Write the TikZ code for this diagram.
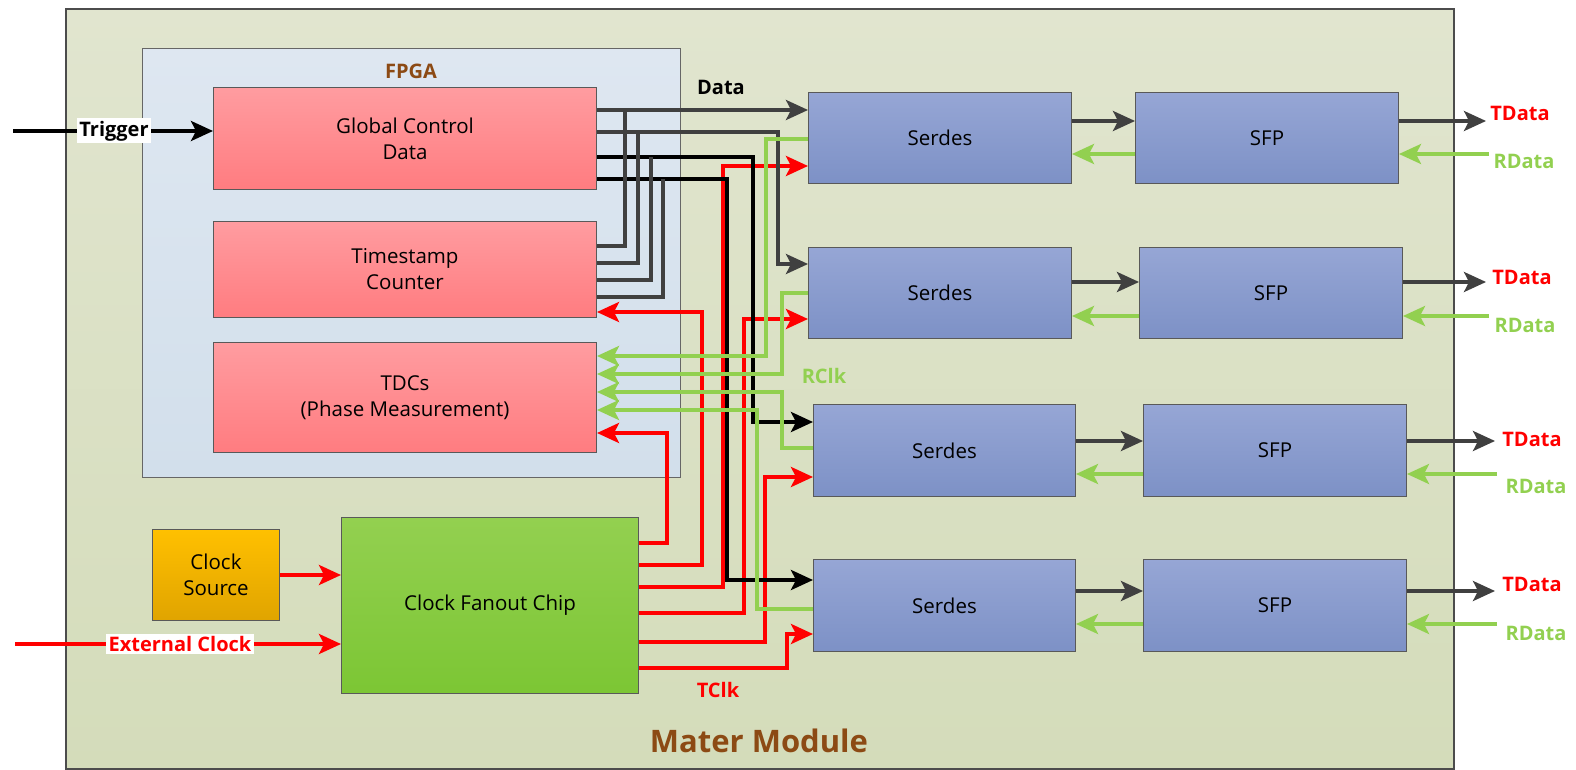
\documentclass[tikz,border=0pt]{standalone}
\usepackage{fontspec}
\setmainfont{Open Sans}
\usetikzlibrary{arrows.meta}
\definecolor{dkgray}{HTML}{404040}
\definecolor{grn}{HTML}{92D050}
\definecolor{brn}{HTML}{8C4A14}
\definecolor{rdc}{HTML}{FF0000}
\definecolor{olvT}{HTML}{E1E5CF}
\definecolor{olvB}{HTML}{D4DCBA}
\definecolor{fpgT}{HTML}{DEE7F1}
\definecolor{fpgB}{HTML}{D2DFEB}
\definecolor{pnkT}{HTML}{FF9CA0}
\definecolor{pnkB}{HTML}{FF7C80}
\definecolor{bluT}{HTML}{96A6D5}
\definecolor{bluB}{HTML}{7D91C6}
\definecolor{orgT}{HTML}{FFC000}
\definecolor{orgB}{HTML}{E0A400}
\definecolor{fanT}{HTML}{93D050}
\definecolor{fanB}{HTML}{7CC634}
\begin{document}
\begin{tikzpicture}[x=1pt,y=-1pt,
  box/.style={draw=black!65,line width=1pt,anchor=north west,inner sep=0pt,align=center,font=\fontsize{20.5}{26}\selectfont},
  pinkbox/.style={box,top color=pnkT,bottom color=pnkB},
  bluebox/.style={box,top color=bluT,bottom color=bluB},
  lbl/.style={font=\fontsize{20}{23}\selectfont\bfseries,inner sep=1.5pt},
  wdk/.style={draw=dkgray,line width=3.5pt},
  wbk/.style={draw=black,line width=4pt},
  wrd/.style={draw=rdc,line width=4pt},
  wgn/.style={draw=grn,line width=3.5pt},
  arr/.style={-{Stealth[length=22pt,width=20pt,inset=5pt]}}]
\useasboundingbox (0,0) rectangle (1576,770);
% frames
\node[box,top color=olvT,bottom color=olvB,draw=black!70,line width=2pt,minimum width=1388pt,minimum height=760pt] (mm) at (65,8) {};
\node[box,top color=fpgT,bottom color=fpgB,draw=black!60,minimum width=538pt,minimum height=429pt] (fpga) at (142,48) {};
\node[lbl,text=brn] (fpgalbl) at (411,71) {FPGA};
\node[lbl,text=brn,font=\fontsize{31}{36}\selectfont\bfseries] (mmlbl) at (759,741) {Mater Module};
% FPGA blocks
\node[pinkbox,minimum width=383pt,minimum height=102pt] (gcd) at (213,87) {Global Control\\Data};
\node[pinkbox,minimum width=383pt,minimum height=96pt] (ts) at (213,221) {Timestamp\\Counter};
\node[pinkbox,minimum width=383pt,minimum height=110pt] (tdc) at (213,342) {TDCs\\(Phase Measurement)};
% clock blocks
\node[box,top color=orgT,bottom color=orgB,minimum width=127pt,minimum height=91pt] (cks) at (152,529) {Clock\\Source};
\node[box,top color=fanT,bottom color=fanB,minimum width=297pt,minimum height=176pt] (fan) at (341,517) {Clock Fanout Chip};
% serdes and sfp
\node[bluebox,minimum width=263pt,minimum height=91pt] (ser1) at (808,92) {Serdes};
\node[bluebox,minimum width=263pt,minimum height=91pt] (ser2) at (808,247) {Serdes};
\node[bluebox,minimum width=262pt,minimum height=92pt] (ser3) at (813,404) {Serdes};
\node[bluebox,minimum width=262pt,minimum height=92pt] (ser4) at (813,559) {Serdes};
\node[bluebox,minimum width=263pt,minimum height=91pt] (sfp1) at (1135,92) {SFP};
\node[bluebox,minimum width=263pt,minimum height=91pt] (sfp2) at (1139,247) {SFP};
\node[bluebox,minimum width=263pt,minimum height=92pt] (sfp3) at (1143,404) {SFP};
\node[bluebox,minimum width=263pt,minimum height=92pt] (sfp4) at (1143,559) {SFP};
% external inputs
\coordinate (trigin) at (13,131);
\coordinate (extin) at (15,644);
\draw[wbk,line width=3.5pt,arr] (trigin) -- (gcd.west |- trigin);
\node[lbl,fill=white,inner sep=2.5pt] (triglbl) at (114,131) {Trigger};
\draw[wrd,line width=3.5pt,arr] (extin) -- (fan.west |- extin);
\node[lbl,fill=white,text=rdc,inner sep=2.5pt] (extlbl) at (180,644) {External Clock};
\draw[wrd,line width=3.5pt,arr] (cks.east |- 0,575) -- (fan.west |- 0,575);
% red clock lines
\draw[wrd,arr] (fan.east |- 0,543) -- (667,543) -- (667,433) -- (tdc.east |- 0,433);
\draw[wrd,arr] (fan.east |- 0,565) -- (702,565) -- (702,312) -- (ts.east |- 0,312);
\draw[wrd,arr] (fan.east |- 0,587) -- (723,587) -- (723,166) -- (ser1.west |- 0,166);
\draw[wrd,arr] (fan.east |- 0,613) -- (744,613) -- (744,319) -- (ser2.west |- 0,319);
\draw[wrd,arr] (fan.east |- 0,642) -- (765,642) -- (765,477) -- (ser3.west |- 0,477);
\draw[wrd,arr] (fan.east |- 0,668) -- (787,668) -- (787,634) -- (ser4.west |- 0,634);
% data lines
\draw[wdk,arr] (gcd.east |- 0,110) -- (ser1.west |- 0,110);
\draw[wdk,arr] (gcd.east |- 0,132) -- (778,132) -- (778,264) -- (ser2.west |- 0,264);
\draw[wbk,arr] (gcd.east |- 0,157) -- (753,157) -- (753,422) -- (ser3.west |- 0,422);
\draw[wbk,arr] (gcd.east |- 0,179) -- (727,179) -- (727,580) -- (ser4.west |- 0,580);
\draw[wdk] (ts.east |- 0,246) -- (625,246) -- (625,110);
\draw[wdk] (ts.east |- 0,263) -- (638,263) -- (638,132);
\draw[wdk] (ts.east |- 0,280) -- (651,280) -- (651,157);
\draw[wdk] (ts.east |- 0,297) -- (663,297) -- (663,179);
% recovered clocks
\draw[wgn,arr] (ser1.west |- 0,139) -- (766,139) -- (766,356) -- (tdc.east |- 0,356);
\draw[wgn,arr] (ser2.west |- 0,293) -- (782,293) -- (782,374) -- (tdc.east |- 0,374);
\draw[wgn,arr] (ser3.west |- 0,448) -- (782,448) -- (782,392) -- (tdc.east |- 0,392);
\draw[wgn,arr] (ser4.west |- 0,609) -- (757,609) -- (757,410) -- (tdc.east |- 0,410);
% labels on wires
\node[lbl] (datalbl) at (721,87) {Data};
\node[lbl,text=grn] (rclklbl) at (824,376) {RClk};
\node[lbl,text=rdc] (tclklbl) at (718,690) {TClk};
% serdes <-> sfp
\draw[wdk,arr] (ser1.east |- 0,121) -- (sfp1.west |- 0,121);
\draw[wgn,arr] (sfp1.west |- 0,154) -- (ser1.east |- 0,154);
\draw[wdk,arr] (ser2.east |- 0,282) -- (sfp2.west |- 0,282);
\draw[wgn,arr] (sfp2.west |- 0,316) -- (ser2.east |- 0,316);
\draw[wdk,arr] (ser3.east |- 0,441) -- (sfp3.west |- 0,441);
\draw[wgn,arr] (sfp3.west |- 0,474) -- (ser3.east |- 0,474);
\draw[wdk,arr] (ser4.east |- 0,591) -- (sfp4.west |- 0,591);
\draw[wgn,arr] (sfp4.west |- 0,624) -- (ser4.east |- 0,624);
% outputs
\coordinate (to1) at (1486,121);
\coordinate (ri1) at (1489,154);
\coordinate (to2) at (1486,282);
\coordinate (ri2) at (1489,316);
\coordinate (to3) at (1495,441);
\coordinate (ri3) at (1497,474);
\coordinate (to4) at (1495,591);
\coordinate (ri4) at (1497,624);
\draw[wdk,arr] (sfp1.east |- to1) -- (to1);
\draw[wgn,arr] (ri1) -- (sfp1.east |- ri1);
\draw[wdk,arr] (sfp2.east |- to2) -- (to2);
\draw[wgn,arr] (ri2) -- (sfp2.east |- ri2);
\draw[wdk,arr] (sfp3.east |- to3) -- (to3);
\draw[wgn,arr] (ri3) -- (sfp3.east |- ri3);
\draw[wdk,arr] (sfp4.east |- to4) -- (to4);
\draw[wgn,arr] (ri4) -- (sfp4.east |- ri4);
\node[lbl,text=rdc] (td1) at (1520,113) {TData};
\node[lbl,text=grn] (rd1) at (1524,161) {RData};
\node[lbl,text=rdc] (td2) at (1522,277) {TData};
\node[lbl,text=grn] (rd2) at (1525,325) {RData};
\node[lbl,text=rdc] (td3) at (1532,439) {TData};
\node[lbl,text=grn] (rd3) at (1536,486) {RData};
\node[lbl,text=rdc] (td4) at (1532,584) {TData};
\node[lbl,text=grn] (rd4) at (1536,633) {RData};
\end{tikzpicture}
\end{document}
